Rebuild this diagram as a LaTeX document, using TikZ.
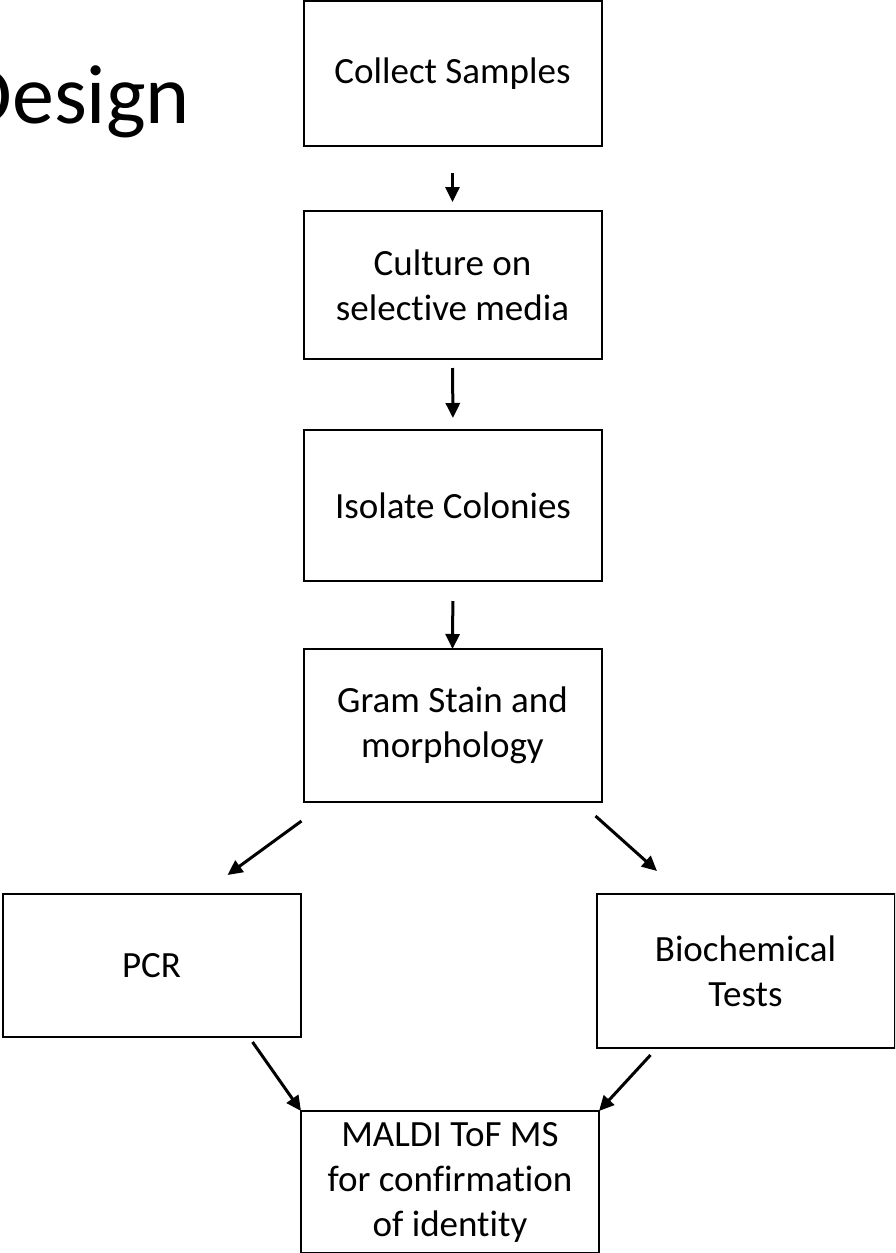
\documentclass[tikz,border=0pt]{standalone}
\usepackage{fontspec}
\setmainfont[Ligatures=NoCommon]{Carlito}
\usetikzlibrary{arrows.meta}

\begin{document}
\begin{tikzpicture}[x=1pt, y=-1pt,
    stage/.style={draw, line width=2pt, minimum width=298pt, inner sep=0pt, outer sep=0pt, align=center, font=\fontsize{37}{45}\selectfont},
    link/.style={->,>={Triangle[length=15pt,width=14pt]},line width=3pt}
]
\useasboundingbox (0,0) rectangle (895,1253);
\clip (0,0) rectangle (895,1253);

\node[anchor=base east, inner sep=0pt, font=\fontsize{84}{90}\selectfont] (title) at (190,123) {Design};

\node[stage, minimum height=145pt] (collect) at (452.5,73.5) {Collect Samples};
\node[stage, minimum height=148pt] (culture) at (452.5,285) {Culture on\\selective media};
\node[stage, minimum height=151pt] (isolate) at (453,505.5) {Isolate Colonies};
\node[stage, minimum height=153pt] (gram) at (452.5,725.5) {Gram Stain and\\morphology};
\node[stage, minimum height=143pt] (pcr) at (151.5,965.5) {PCR};
\node[stage, minimum height=154pt] (biochem) at (745.5,971) {Biochemical\\Tests};
\node[stage, minimum height=142pt] (maldi) at (450,1182) {MALDI ToF MS\\for confirmation\\of identity};

% Flow Arrows
\draw[link, shorten <=27pt, shorten >=9pt] (collect.south) -- (culture.north);
\draw[link, shorten <=9pt, shorten >=12pt] (culture.south) -- (isolate.north);
\draw[link, shorten <=20pt] (isolate.south) -- (gram.north);
\draw[link] ([shift={(-2,19)}]gram.south west) -- ([shift={(76,-19)}]pcr.north);
\draw[link] ([shift={(-6,14)}]gram.south east) -- ([shift={(-88.5,-23)}]biochem.north);
\draw[link] ([shift={(-48,5)}]pcr.south east) -- (maldi.north west);
\draw[link] ([shift={(54,7)}]biochem.south west) -- (maldi.north east);

\end{tikzpicture}
\end{document}
